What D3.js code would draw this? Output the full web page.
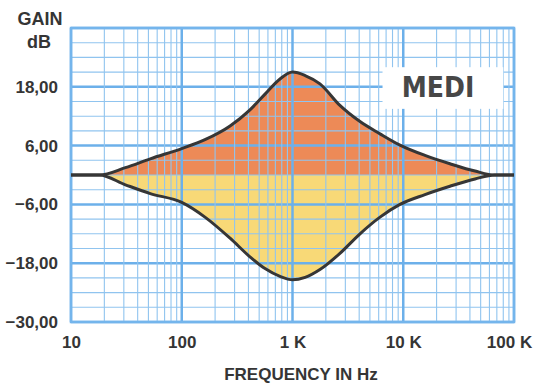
<!DOCTYPE html>
<html>
<head>
<meta charset="utf-8">
<script src="https://cdn.jsdelivr.net/npm/d3@7"></script>
<style>
    body { margin: 0; background: #fff; }
    svg { display: block; }
    text { font-family: "Liberation Sans", Arial, sans-serif; font-weight: bold; fill: #353535; }
    .preset { font-family: "DejaVu Sans Condensed", "DejaVu Sans", sans-serif; font-stretch: condensed; }
</style>
</head>
<body>
<div id="viz"></div>
<script>
// frequency in Hz, gain in dB for the boost (upper) and cut (lower) curves
const freq = [10, 18, 31, 52, 100, 162, 273, 413, 565, 771, 1000, 1300, 1770, 2680, 4070, 6170, 9340, 15700, 26400, 44500, 67000, 100000]
const boostGain = [0, 0, 1.5, 3.3, 5.4, 7.2, 10.0, 13.3, 16.5, 19.6, 21.0, 20.3, 18.6, 14.2, 10.9, 8.4, 6.1, 4.0, 2.3, 0.8, 0, 0]
const cutGain = [0, 0, -2.0, -3.8, -5.6, -8.6, -12.9, -16.7, -19.1, -20.7, -21.4, -20.9, -19.3, -16.0, -12.0, -8.6, -6.0, -4.0, -2.3, -0.8, 0, 0]

const yTicks = [18, 6, -6, -18, -30]
const xTicks = [10, 100, 1000, 10000, 100000]
const xTickLabels = ['10', '100', '1 K', '10 K', '100 K']
const presetName = 'MEDI'

const width = 534,
    height = 387

const margin = { top: 28, right: 20, bottom: 65, left: 71 },
    innerWidth = width - margin.left - margin.right,
    innerHeight = height - margin.top - margin.bottom

const svg = d3.select('#viz').append('svg')
    .attr('width', width)
    .attr('height', height)

const g = svg.append('g')
    .attr('transform', `translate(${margin.left}, ${margin.top})`)

const x = d3.scaleLog()
    .domain([10, 100000])
    .range([0, innerWidth])

const y = d3.scaleLinear()
    .domain([-30, 30])
    .range([innerHeight, 0])

const boost = freq.map((f, i) => ({ f, g: boostGain[i] }))
const cut = freq.map((f, i) => ({ f, g: cutGain[i] }))

const area = d3.area()
    .x(d => x(d.f))
    .y0(y(0))
    .y1(d => y(d.g))
    .curve(d3.curveMonotoneX)

const line = d3.line()
    .x(d => x(d.f))
    .y(d => y(d.g))
    .curve(d3.curveMonotoneX)

// fills under the grid
g.append('path').datum(boost)
    .attr('d', area)
    .attr('fill', '#ed8a57')

g.append('path').datum(cut)
    .attr('d', area)
    .attr('fill', '#f8d977')

// graph paper grid
const gainLines = d3.range(-30, 31, 3)
const freqLines = []
xTicks.slice(0, -1).forEach(dec => {
    for (let k = 1; k < 10; k++) freqLines.push(dec * k)
})
freqLines.push(100000)

const isMajorGain = d => (d + 30) % 12 === 0
const isMajorFreq = d => xTicks.includes(d)

const grid = g.append('g').attr('class', 'grid')

grid.selectAll('line.h').data(gainLines)
    .enter()
    .append('line')
    .attr('class', 'h')
    .attr('x1', 0)
    .attr('x2', innerWidth)
    .attr('y1', d => y(d))
    .attr('y2', d => y(d))
    .attr('stroke', d => isMajorGain(d) ? '#6cb0ea' : '#90c4ef')
    .attr('stroke-width', d => isMajorGain(d) ? 2.5 : 1.1)

grid.selectAll('line.v').data(freqLines)
    .enter()
    .append('line')
    .attr('class', 'v')
    .attr('y1', 0)
    .attr('y2', innerHeight)
    .attr('x1', d => x(d))
    .attr('x2', d => x(d))
    .attr('stroke', d => isMajorFreq(d) ? '#6cb0ea' : '#90c4ef')
    .attr('stroke-width', d => isMajorFreq(d) ? 2.5 : 1.1)

grid.append('rect')
    .attr('width', innerWidth)
    .attr('height', innerHeight)
    .attr('fill', 'none')
    .attr('stroke', '#74b5ec')
    .attr('stroke-width', 2.5)

// curves
g.selectAll('path.curve').data([boost, cut])
    .enter()
    .append('path')
    .attr('class', 'curve')
    .attr('d', line)
    .attr('fill', 'none')
    .attr('stroke', '#363636')
    .attr('stroke-width', 3)

// preset label box
g.append('rect')
    .attr('x', x(6500))
    .attr('y', y(22))
    .attr('width', x(80000) - x(6500))
    .attr('height', y(13.5) - y(22))
    .attr('fill', '#fff')

g.append('text')
    .attr('class', 'preset')
    .attr('x', x(20600))
    .attr('y', y(22) + 30)
    .attr('text-anchor', 'middle')
    .style('font-size', '28px')
    .style('fill', '#474747')
    .text(presetName)

// axes
const yAxis = d3.axisLeft(y)
    .tickValues(yTicks)
    .tickSize(0)
    .tickPadding(13)
    .tickFormat(d => d3.format('.2f')(d).replace('.', ','))

const yAxisG = g.append('g').call(yAxis)
yAxisG.select('.domain').remove()
yAxisG.selectAll('text')
    .style('font-size', '17px')

const xAxis = d3.axisBottom(x)
    .tickValues(xTicks)
    .tickSize(0)
    .tickPadding(14)
    .tickFormat((d, i) => xTickLabels[i])

const xAxisG = g.append('g').call(xAxis)
xAxisG.attr('transform', `translate(0, ${innerHeight})`)
xAxisG.select('.domain').remove()
xAxisG.selectAll('text')
    .attr('dx', (d, i) => i === xTicks.length - 1 ? -5 : 0)
    .style('font-size', '17px')

// axis titles
svg.append('text')
    .attr('x', 40)
    .attr('y', 25)
    .attr('text-anchor', 'middle')
    .style('font-size', '18px')
    .text('GAIN')

svg.append('text')
    .attr('x', 39)
    .attr('y', 48)
    .attr('text-anchor', 'middle')
    .style('font-size', '18px')
    .text('dB')

svg.append('text')
    .attr('x', 301)
    .attr('y', 380)
    .attr('text-anchor', 'middle')
    .style('font-size', '17px')
    .text('FREQUENCY IN Hz')
</script>
</body>
</html>
